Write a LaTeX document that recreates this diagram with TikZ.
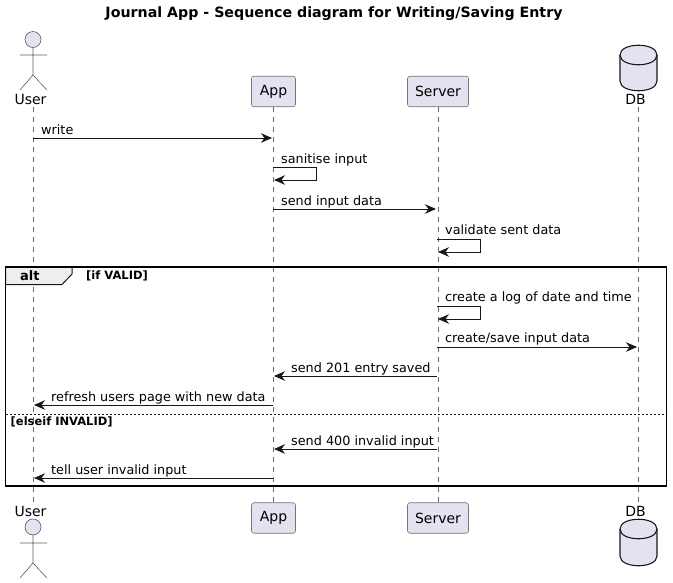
\documentclass[tikz,border=0pt]{standalone}
\usepackage{fontspec}
\setmainfont{DejaVu Sans}
\usetikzlibrary{arrows.meta}
\definecolor{ink}{HTML}{181818}
\definecolor{part}{HTML}{E2E2F0}
\definecolor{tabfill}{HTML}{EEEEEE}
\tikzset{
  x=1pt,y=-1pt,
  msg/.style={draw=ink,line width=0.9pt,-{Stealth[length=11pt,width=9.5pt,inset=3.5pt]}},
  life/.style={draw=ink!65,line width=0.5pt,dash pattern=on 5pt off 5pt},
  partbox/.style={draw=ink!60,fill=part,line width=0.6pt,rounded corners=2.5pt,inner sep=0pt,minimum height=30.5pt,font=\fontsize{14}{14}\selectfont},
  pname/.style={inner sep=0pt,font=\fontsize{14}{14}\selectfont,text=black},
  mtext/.style={anchor=base west,inner sep=0pt,font=\fontsize{12.8}{13}\selectfont,text=black},
  guard/.style={anchor=base west,inner sep=0pt,font=\fontsize{11.5}{12}\selectfont\bfseries,text=black},
  actorhead/.style={draw=ink!70,line width=0.6pt,fill=part},
  actorline/.style={draw=ink!70,line width=0.6pt},
  dbline/.style={draw=ink,line width=1.1pt,fill=part},
}
\begin{document}
\begin{tikzpicture}
\useasboundingbox (0,0) rectangle (673,582);
% title
\node[anchor=base,inner sep=0pt,font=\fontsize{14.2}{15}\selectfont\bfseries] (title) at (334,17) {Journal App - Sequence diagram for Writing/Saving Entry};
% lifeline anchors
\coordinate (userT) at (33,107);
\coordinate (userB) at (33,502);
\coordinate (dbT) at (638,107);
\coordinate (dbB) at (638,502);
% participant boxes
\node[partbox,minimum width=44pt] (appT) at (273.5,91.5) {App};
\node[partbox,minimum width=61pt] (srvT) at (438,91.5) {Server};
\node[partbox,minimum width=44pt] (appB) at (273.5,518) {App};
\node[partbox,minimum width=61pt] (srvB) at (438,518) {Server};
% lifelines
\draw[life] (userT) -- (userB);
\draw[life] (appT.south) -- (appB.north);
\draw[life] (srvT.south) -- (srvB.north);
\draw[life] (dbT) -- (dbB);
% actor top
\node[pname] (userNameT) at (30.5,99) {User};
\draw[actorhead] (33,39.5) circle (8);
\draw[actorline] (33,47.5) -- (33,75) (20,55) -- (47,55) (20,90) -- (33,75) -- (47,90);
% actor bottom
\node[pname] (userNameB) at (30.5,511) {User};
\draw[actorhead] (33,527) circle (8);
\draw[actorline] (33,535) -- (33,563) (20,543) -- (47,543) (20,578) -- (33,563) -- (47,578);
% database top
\node[pname] (dbNameT) at (635.5,99) {DB};
\draw[dbline] (620,55) .. controls (620,42) and (657,42) .. (657,55) -- (657,81)
  .. controls (657,94) and (620,94) .. (620,81) -- cycle;
\draw[draw=ink,line width=1.1pt] (620,55) .. controls (620,68) and (657,68) .. (657,55);
% database bottom
\node[pname] (dbNameB) at (635.5,511) {DB};
\draw[dbline] (620,529) .. controls (620,516) and (657,516) .. (657,529) -- (657,556)
  .. controls (657,569) and (620,569) .. (620,556) -- cycle;
\draw[draw=ink,line width=1.1pt] (620,529) .. controls (620,542) and (657,542) .. (657,529);
% message end points
\coordinate (m1a) at (33,138);   \coordinate (m1b) at (272,138);
\coordinate (s1a) at (273,167);  \coordinate (s1r) at (316,167);  \coordinate (s1q) at (316,180);  \coordinate (s1b) at (274,180);
\coordinate (m2a) at (273,209);  \coordinate (m2b) at (436,209);
\coordinate (s2a) at (437,239);  \coordinate (s2r) at (480,239);  \coordinate (s2q) at (480,252);  \coordinate (s2b) at (438,252);
\coordinate (s3a) at (437,306);  \coordinate (s3r) at (480,306);  \coordinate (s3q) at (480,319);  \coordinate (s3b) at (438,319);
\coordinate (m3a) at (437,347);  \coordinate (m3b) at (637,347);
\coordinate (m4a) at (437,376);  \coordinate (m4b) at (274,376);
\coordinate (m5a) at (273,405);  \coordinate (m5b) at (34,405);
\coordinate (m6a) at (437,449);  \coordinate (m6b) at (274,449);
\coordinate (m7a) at (273,478);  \coordinate (m7b) at (34,478);
% alt frame
\coordinate (frameTL) at (5.5,267);
\coordinate (frameBR) at (666.5,486);
\draw[draw=ink,fill=tabfill,line width=1pt] (5.5,267) -- (72,267) -- (72,274) -- (62,284.5) -- (5.5,284.5) -- cycle;
\draw[draw=black,line width=1.8pt] (frameTL) rectangle (frameBR);
\coordinate (divL) at (5.5,414.5);
\coordinate (divR) at (666.5,414.5);
\draw[draw=ink,line width=0.8pt,dash pattern=on 2pt off 2pt] (divL) -- (divR);
\node[anchor=base west,inner sep=0pt,font=\fontsize{13}{13}\selectfont\bfseries] (altLabel) at (20,280) {alt};
\node[guard] (g1) at (86,279) {[if VALID]};
\node[guard] (g2) at (10.5,425) {[elseif INVALID]};
% messages
\draw[msg] (m1a) -- (m1b);
\node[mtext] (t1) at (41,134) {write};
\draw[msg] (s1a) -- (s1r) -- (s1q) -- (s1b);
\node[mtext] (t2) at (281,163) {sanitise input};
\draw[msg] (m2a) -- (m2b);
\node[mtext] (t3) at (281,205) {send input data};
\draw[msg] (s2a) -- (s2r) -- (s2q) -- (s2b);
\node[mtext] (t4) at (445,234) {validate sent data};
\draw[msg] (s3a) -- (s3r) -- (s3q) -- (s3b);
\node[mtext] (t5) at (445,301) {create a log of date and time};
\draw[msg] (m3a) -- (m3b);
\node[mtext] (t6) at (445,342) {create/save input data};
\draw[msg] (m4a) -- (m4b);
\node[mtext] (t7) at (291,372) {send 201 entry saved};
\draw[msg] (m5a) -- (m5b);
\node[mtext] (t8) at (51,401) {refresh users page with new data};
\draw[msg] (m6a) -- (m6b);
\node[mtext] (t9) at (291,445) {send 400 invalid input};
\draw[msg] (m7a) -- (m7b);
\node[mtext] (t10) at (51,474) {tell user invalid input};
\end{tikzpicture}
\end{document}
